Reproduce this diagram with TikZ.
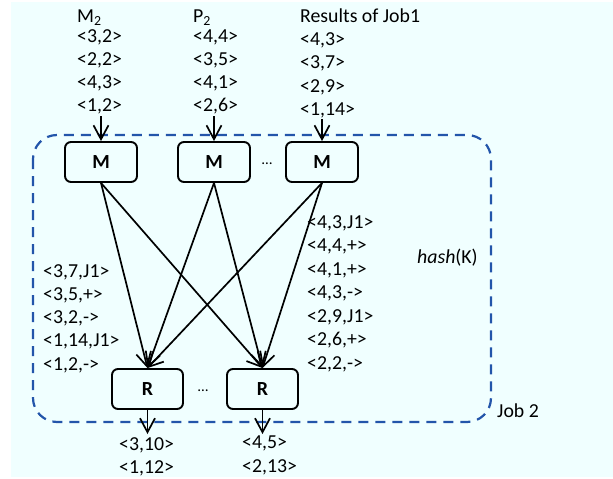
\documentclass[tikz,border=0pt]{standalone}
\usepackage{fontspec}
\setmainfont{Carlito}
\usetikzlibrary{arrows.meta}
\definecolor{bgc}{RGB}{240,255,255}
\definecolor{dashblue}{RGB}{35,85,170}
\begin{document}
\begin{tikzpicture}[x=1pt,y=-1pt,
  box/.style={draw, line width=1.9pt, rounded corners=6pt, minimum width=72pt,
    minimum height=40pt, inner sep=0pt, font=\fontsize{20}{24}\selectfont\bfseries},
  lbl/.style={anchor=base west, inner sep=0pt, font=\fontsize{19.8}{23.5}\selectfont},
  dots/.style={anchor=base, inner sep=0pt, font=\fontsize{15}{18}\selectfont},
  arr/.style={line width=1.7pt, -{Straight Barb[length=14pt,width=15pt]}},
  jobbox/.style={draw=dashblue, line width=2.2pt, dash pattern=on 10pt off 7pt, rounded corners=24pt},
]
\useasboundingbox (0,0) rectangle (613,479);
\fill[white] (0,0) rectangle (613,479);
\fill[bgc] (11,2) rectangle (613,477);

% job box
\draw[jobbox] (33,135) rectangle (491,422);

% top inputs
\node[lbl] (hm) at (77,22) {M\textsubscript{2}};
\node[lbl] (hp) at (193,22) {P\textsubscript{2}};
\node[lbl] (hr) at (300,22) {Results of Job1};
\foreach \t [count=\i] in {{<3,2>},{<2,2>},{<4,3>},{<1,2>}}
  \node[lbl] (ma\i) at (77,{42+23.3*(\i-1)}) {\t};
\foreach \t [count=\i] in {{<4,4>},{<3,5>},{<4,1>},{<2,6>}}
  \node[lbl] (pa\i) at (193,{42+23.3*(\i-1)}) {\t};
\foreach \t [count=\i] in {{<4,3>},{<3,7>},{<2,9>},{<1,14>}}
  \node[lbl] (ra\i) at (300,{45+23.6*(\i-1)}) {\t};

% map boxes
\node[box] (m1) at (101,162) {M};
\node[box] (m2) at (214,162) {M};
\node[box] (m3) at (322,162) {M};
\node[dots] (md) at (267,164) {…};

% reduce boxes
\node[box, minimum width=71pt] (r1) at (147.5,389) {R};
\node[box, minimum width=71pt] (r2) at (262.5,389) {R};
\node[dots] (rd) at (203,391) {…};

% input arrows
\coordinate (i1) at (101,116);
\coordinate (i2) at (214,116);
\coordinate (i3) at (322,119);
\draw[arr] (i1) -- (m1.north);
\draw[arr] (i2) -- (m2.north);
\draw[arr] (i3) -- (m3.north);

% shuffle arrows
\foreach \m in {m1,m2,m3}{
  \draw[arr] (\m.south) -- (r1.north);
  \draw[arr] (\m.south) -- (r2.north);
}

% output arrows
\coordinate (o1) at (147.5,434);
\coordinate (o2) at (262.5,434);
\draw[arr] (r1.south) -- (o1);
\draw[arr] (r2.south) -- (o2);

% intermediate labels
\foreach \t [count=\i] in {{<3,7,J1>},{<3,5,+>},{<3,2,->},{<1,14,J1>},{<1,2,->}}
  \node[lbl] (la\i) at (43,{277+23.3*(\i-1)}) {\t};
\foreach \t [count=\i] in {{<4,3,J1>},{<4,4,+>},{<4,1,+>},{<4,3,->},{<2,9,J1>},{<2,6,+>},{<2,2,->}}
  \node[lbl] (rb\i) at (307,{228+23.5*(\i-1)}) {\t};
\node[lbl] (hash) at (417,263) {\textit{hash}(K)};
\node[lbl] (job) at (497,417) {Job 2};

% outputs
\node[lbl] (oa1) at (119,450) {<3,10>};
\node[lbl] (oa2) at (119,473) {<1,12>};
\node[lbl] (ob1) at (242,448) {<4,5>};
\node[lbl] (ob2) at (242,472) {<2,13>};
\end{tikzpicture}
\end{document}
